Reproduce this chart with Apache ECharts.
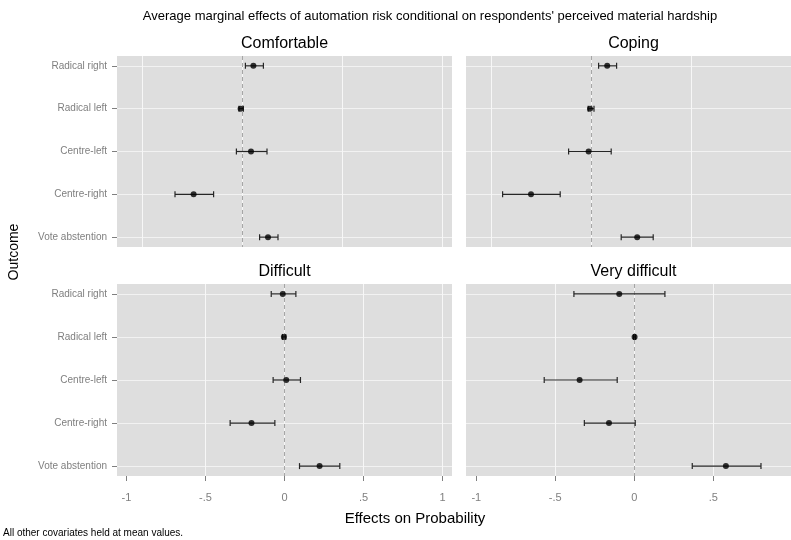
<!DOCTYPE html>
<html>
<head>
<meta charset="utf-8">
<script src="https://cdn.jsdelivr.net/npm/echarts@6/dist/echarts.min.js"></script>
<style>
  html, body { margin: 0; padding: 0; background: #fff; }
  #chart { width: 791px; height: 540px; }
</style>
</head>
<body>
<div id="chart"></div>
<script>
var outcomes = ['Radical right', 'Radical left', 'Centre-left', 'Centre-right', 'Vote abstention'];
var panelNames = ['Comfortable', 'Coping', 'Difficult', 'Very difficult'];

// estimate / lower / upper per panel, in the order of outcomes
var comfortableMid  = [0.057, -0.007, 0.045, -0.242, 0.130];
var comfortableLow  = [0.017, -0.015, -0.028, -0.335, 0.088];
var comfortableHigh = [0.107, 0.007, 0.125, -0.142, 0.180];

var copingMid  = [0.078, -0.008, -0.015, -0.303, 0.228];
var copingLow  = [0.035, -0.017, -0.115, -0.445, 0.148];
var copingHigh = [0.125, 0.012, 0.098, -0.157, 0.308];

var difficultMid  = [-0.011, -0.004, 0.011, -0.209, 0.222];
var difficultLow  = [-0.084, -0.013, -0.072, -0.344, 0.095];
var difficultHigh = [0.072, 0.008, 0.101, -0.061, 0.350];

var veryDifficultMid  = [-0.095, 0.002, -0.346, -0.160, 0.580];
var veryDifficultLow  = [-0.382, -0.004, -0.570, -0.316, 0.367];
var veryDifficultHigh = [0.194, 0.008, -0.108, 0.006, 0.802];

var xTickValues = [-1, -0.5, 0, 0.5, 1];
var xTickLabels = ['-1', '-.5', '0', '.5', '1'];
var xGridValues = [-0.5, 0, 0.5, 1];
var yTickValues = [0, 1, 2, 3, 4];

var panelData = [
  [comfortableMid, comfortableLow, comfortableHigh],
  [copingMid, copingLow, copingHigh],
  [difficultMid, difficultLow, difficultHigh],
  [veryDifficultMid, veryDifficultLow, veryDifficultHigh]
];

var FONT = 'Liberation Sans, Arial, sans-serif';
var myChart = echarts.init(document.getElementById('chart'));

// right-hand panels run off the canvas edge, so their range stops near 1
var gridBoxes = [
  {left: 117, top: 56, width: 335, height: 191, min: -0.625, max: 1.05, center: 284.5},
  {left: 466, top: 56, width: 325, height: 191, min: -0.628, max: 0.997, center: 633.5},
  {left: 117, top: 284, width: 335, height: 192, min: -1.06, max: 1.06, center: 284.5},
  {left: 466, top: 284, width: 325, height: 192, min: -1.065, max: 0.992, center: 633.5}
];

var grids = [], xAxes = [], yAxes = [], series = [];

function renderBar(params, api) {
  var lo = api.coord([api.value(0), api.value(2)]);
  var hi = api.coord([api.value(1), api.value(2)]);
  var st = {stroke: '#262626', lineWidth: 1.2};
  return {
    type: 'group',
    children: [
      {type: 'line', shape: {x1: lo[0], y1: lo[1], x2: hi[0], y2: hi[1]}, style: st},
      {type: 'line', shape: {x1: lo[0], y1: lo[1] - 3, x2: lo[0], y2: lo[1] + 3}, style: st},
      {type: 'line', shape: {x1: hi[0], y1: hi[1] - 3, x2: hi[0], y2: hi[1] + 3}, style: st}
    ]
  };
}

for (var p = 0; p < 4; p++) {
  var isBottom = p >= 2;
  var isLeft = p % 2 === 0;
  var b = gridBoxes[p];
  grids.push({
    left: b.left, top: b.top, width: b.width, height: b.height,
    show: true, backgroundColor: '#dedede', borderWidth: 0
  });

  // axis carrying the vertical grid lines (and the data)
  var gx = xAxes.length;
  xAxes.push({
    type: 'value', gridIndex: p, position: 'top',
    min: b.min, max: b.max,
    axisLine: {show: false, onZero: false},
    axisTick: {show: false, customValues: xGridValues},
    axisLabel: {show: false, customValues: xGridValues},
    splitLine: {show: true, lineStyle: {color: '#f7f7f7', width: 1}}
  });
  if (isBottom) {
    xAxes.push({
      type: 'value', gridIndex: p, position: 'bottom',
      min: b.min, max: b.max,
      axisLine: {show: false, onZero: false},
      axisTick: {show: true, length: 5, customValues: xTickValues, lineStyle: {color: '#7f7f7f'}},
      axisLabel: {
        show: true, customValues: xTickValues, margin: 16,
        color: '#7f7f7f', fontSize: 11, fontFamily: FONT,
        formatter: function (v) { return xTickLabels[xTickValues.indexOf(v)]; }
      },
      splitLine: {show: false}
    });
  }

  yAxes.push({
    type: 'value', gridIndex: p, inverse: true,
    min: -0.23, max: 4.23,
    axisLine: {show: false, onZero: false},
    axisTick: {show: isLeft, length: 5, customValues: yTickValues, lineStyle: {color: '#7f7f7f'}},
    axisLabel: {
      show: isLeft, customValues: yTickValues, margin: 10,
      color: '#7f7f7f', fontSize: 10, fontFamily: FONT,
      formatter: function (v) { return outcomes[Math.round(v)]; }
    },
    splitLine: {show: true, lineStyle: {color: '#f2f2f2', width: 1}}
  });

  var mid = panelData[p][0], low = panelData[p][1], high = panelData[p][2];
  var barData = [], dotData = [];
  for (var i = 0; i < outcomes.length; i++) {
    barData.push([low[i], high[i], i]);
    dotData.push([mid[i], i]);
  }

  series.push({
    type: 'custom', xAxisIndex: gx, yAxisIndex: p,
    renderItem: renderBar,
    encode: {x: [0, 1], y: 2},
    data: barData, silent: true, z: 3
  });
  series.push({
    type: 'scatter', xAxisIndex: gx, yAxisIndex: p,
    symbol: 'circle', symbolSize: 6,
    itemStyle: {color: '#000'},
    data: dotData, z: 4,
    markLine: {
      silent: true, symbol: 'none',
      label: {show: false},
      lineStyle: {type: [4, 3], color: '#a6a6a6', width: 1},
      data: [{xAxis: 0}],
      z: 2
    }
  });
}

var titles = [
  {text: "Average marginal effects of automation risk conditional on respondents' perceived material hardship",
   left: 430, top: 10, textAlign: 'center', padding: 0,
   textStyle: {fontSize: 13, fontWeight: 'normal', color: '#000', fontFamily: FONT}},
  {text: 'Effects on Probability', left: 415, top: 511, textAlign: 'center', padding: 0,
   textStyle: {fontSize: 15, fontWeight: 'normal', color: '#000', fontFamily: FONT}},
  {text: 'All other covariates held at mean values.', left: 3, top: 528, padding: 0,
   textStyle: {fontSize: 10, fontWeight: 'normal', color: '#000', fontFamily: FONT}}
];
for (var k = 0; k < 4; k++) {
  titles.push({
    text: panelNames[k],
    left: gridBoxes[k].center,
    top: gridBoxes[k].top - 20, textAlign: 'center', padding: 0,
    textStyle: {fontSize: 16, fontWeight: 'normal', color: '#000', fontFamily: FONT}
  });
}

var option = {
  backgroundColor: '#fff',
  animation: false,
  title: titles,
  graphic: [{
    type: 'text', x: 14, y: 252, rotation: Math.PI / 2,
    style: {text: 'Outcome', fontSize: 14, fontFamily: FONT, fill: '#000',
            align: 'center', verticalAlign: 'middle'}
  }],
  grid: grids,
  xAxis: xAxes,
  yAxis: yAxes,
  series: series
};
myChart.setOption(option);
</script>
</body>
</html>
